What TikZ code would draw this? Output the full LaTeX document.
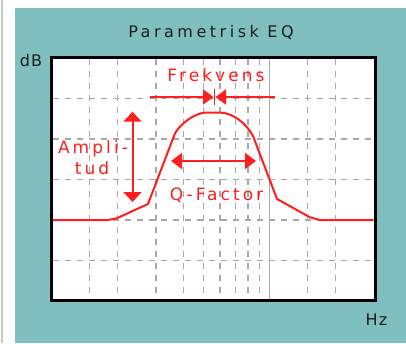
\documentclass[tikz,border=0pt]{standalone}
\usepackage{fontspec}
\setmainfont{DejaVu Sans}
\usetikzlibrary{arrows.meta}
\definecolor{teal1}{RGB}{128,191,192}
\definecolor{gridgray}{RGB}{168,168,168}
\definecolor{eqred}{RGB}{255,30,30}
\definecolor{ink}{RGB}{30,30,30}
\newfontfamily\titlefont[LetterSpace=22]{DejaVu Sans}
\newfontfamily\redfont[LetterSpace=18]{DejaVu Sans}
\newfontfamily\axisfont[LetterSpace=8]{DejaVu Sans}
\tikzset{
  gridline/.style={gridgray, line width=1.3pt, dash pattern=on 6pt off 6pt},
  solidgrid/.style={gridgray, line width=1.5pt},
  curve/.style={eqred, line width=2pt, line join=round},
  redarrow/.style={eqred, line width=2pt},
  redlabel/.style={text=eqred, inner sep=0pt, anchor=base, font=\redfont\fontsize{17}{17}\selectfont},
  axislabel/.style={text=ink, inner sep=0pt, anchor=base, font=\axisfont\fontsize{16}{16}\selectfont},
}
\begin{document}
\begin{tikzpicture}[x=1pt,y=-1pt]
\useasboundingbox (0,0) rectangle (406,343);
\fill[white] (0,0) rectangle (406,343);
\draw[black!22, line width=1.5pt] (2,0) -- (2,343);
\fill[teal1] (15,8.3) rectangle (406,343);
% plot area
\fill[white] (51,57.5) rectangle (375,300.5);
% grid
\foreach \x in {89.5,117.5,156,183.5,203.5,220,235.5,248,259.5,307.5,335.5}
  \draw[gridline] (\x,59) -- (\x,299);
\draw[solidgrid] (269.5,59) -- (269.5,299);
\foreach \y in {98.5,139,179.5,220,260.5}
  \draw[gridline] (52.5,\y) -- (373.5,\y);
% border
\draw[black, line width=3pt] (51,57.5) rectangle (375,300.5);
% curve
\draw[curve] (52.5,220) -- (108,220) -- (116.7,218.3) -- (148,204) -- (175,133.3)
  .. controls (181,123) and (195,113) .. (206,112.5) -- (220,112.5)
  .. controls (233,113) and (246,123) .. (253,136) -- (277,199) -- (310,217.3) -- (320,220) -- (373.5,220);
% Frekvens
\coordinate (fl) at (149.5,97);
\coordinate (fr) at (275,97);
\coordinate (flt) at (213.5,97);
\coordinate (frt) at (215.5,97);
\draw[redarrow, -{Triangle[length=10.5pt,width=15pt]}] (fl) -- (flt);
\draw[redarrow, -{Triangle[length=10.5pt,width=15pt]}] (fr) -- (frt);
\coordinate (ft) at (214.5,89);
\coordinate (fb) at (214.5,105);
\draw[eqred, line width=1pt] (ft) -- (fb);
\node[redlabel] (frek) at (216,81.7) {Frekvens};
% Amplitude
\coordinate (at) at (132.5,111.7);
\coordinate (ab) at (132.5,202);
\draw[redarrow, {Triangle[length=10pt,width=18pt]}-{Triangle[length=10pt,width=18pt]}] (at) -- (ab);
\node[redlabel] (amp1) at (93,153) {Ampli-};
\node[redlabel] (amp2) at (92,174) {tud};
% Q factor
\coordinate (ql) at (171,161);
\coordinate (qr) at (256,161);
\draw[redarrow, {Triangle[length=11pt,width=16pt]}-{Triangle[length=11pt,width=16pt]}] (ql) -- (qr);
\node[redlabel] (qf) at (216.5,200) {Q-Factor};
% labels
\node[text=ink, inner sep=0pt, anchor=base, font=\titlefont\fontsize{16}{16}\selectfont] (title) at (211,37.3) {Parametrisk EQ};
\node[axislabel] (db) at (31,66) {dB};
\node[axislabel] (hz) at (376.5,325) {Hz};
\end{tikzpicture}
\end{document}
